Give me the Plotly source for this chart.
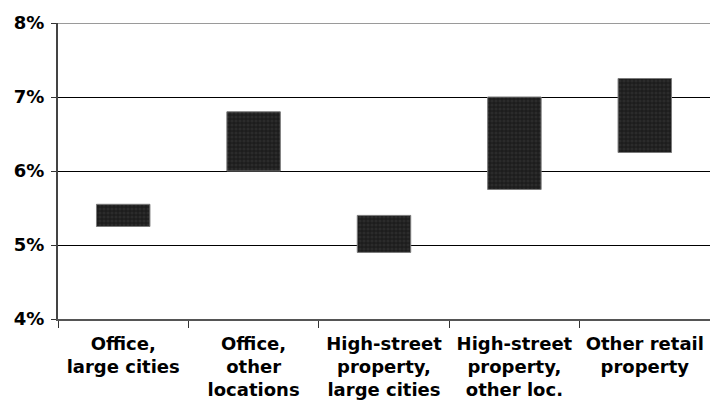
import plotly.graph_objects as go

# Yield ranges by property segment (percent)
categories = [
    "Office,<br>large cities",
    "Office,<br>other<br>locations",
    "High-street<br>property,<br>large cities",
    "High-street<br>property,<br>other loc.",
    "Other retail<br>property",
]
low_values = [5.25, 6.0, 4.9, 5.75, 6.25]
high_values = [5.55, 6.8, 5.4, 7.0, 7.25]
y_ticks = [4, 5, 6, 7, 8]
y_tick_text = ["4%", "5%", "6%", "7%", "8%"]

spans = [h - l for h, l in zip(high_values, low_values)]

font_family = "DejaVu Sans"

fig = go.Figure()
fig.add_trace(
    go.Bar(
        x=categories,
        y=spans,
        base=low_values,
        width=0.41,
        marker=dict(
            color="#1c1c1c",
            line=dict(color="#7a7a7a", width=1),
            pattern=dict(
                shape=".",
                fgcolor="#3a3a3a",
                bgcolor="#1c1c1c",
                size=4,
                solidity=0.5,
            ),
        ),
        hoverinfo="skip",
    )
)

# top boundary of the plotting area
fig.add_shape(
    type="line", xref="paper", yref="y", x0=0, x1=1, y0=8, y1=8,
    line=dict(color="#9a9a9a", width=2), layer="above",
)

fig.update_layout(
    width=710,
    height=412,
    margin=dict(l=58, r=0, t=23, b=93),
    paper_bgcolor="white",
    plot_bgcolor="white",
    showlegend=False,
    font=dict(family=font_family, size=18, color="black"),
)

fig.update_xaxes(
    type="category",
    range=[-0.5, 4.5],
    tickson="boundaries",
    ticks="outside",
    ticklen=7,
    tickcolor="#333333",
    ticklabelstandoff=7,
    showline=True,
    linecolor="#555555",
    linewidth=2,
    showgrid=False,
    tickfont=dict(family=font_family, size=18, color="black", weight="bold"),
)

fig.update_yaxes(
    range=[4, 8],
    tickvals=y_ticks,
    ticktext=y_tick_text,
    ticks="outside",
    ticklen=5,
    tickcolor="#333333",
    ticklabelstandoff=3,
    showline=True,
    linecolor="#444444",
    linewidth=2,
    showgrid=True,
    gridcolor="black",
    gridwidth=1,
    zeroline=False,
    tickfont=dict(family=font_family, size=18, color="black", weight="bold"),
)

fig.write_html("out.html")
